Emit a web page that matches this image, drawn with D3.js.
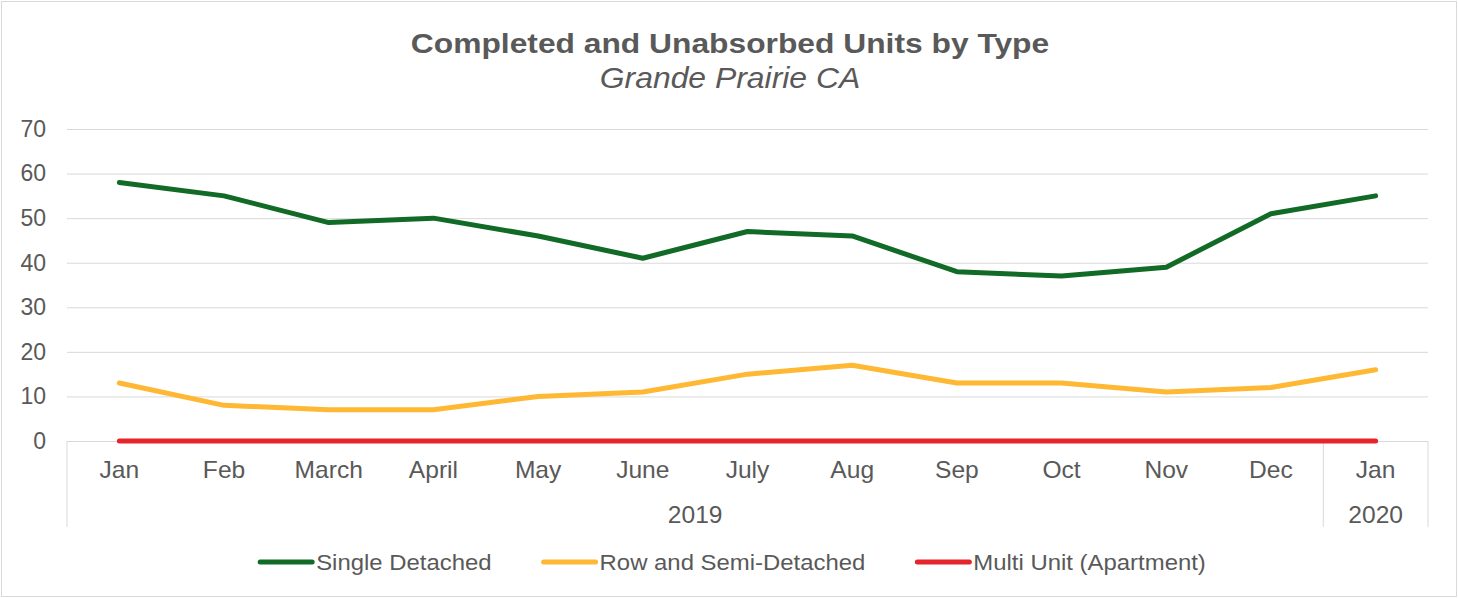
<!DOCTYPE html>
<html>
<head>
<meta charset="utf-8">
<script src="https://cdn.jsdelivr.net/npm/d3@7"></script>
<style>
  body { margin: 0; background: #fff; }
  text { font-family: Arial, "Liberation Sans", sans-serif; fill: #595959; }
</style>
</head>
<body>
<script>
// data
const months = ["Jan", "Feb", "March", "April", "May", "June", "July", "Aug", "Sep", "Oct", "Nov", "Dec", "Jan"]
const years = ["2019", "2019", "2019", "2019", "2019", "2019", "2019", "2019", "2019", "2019", "2019", "2019", "2020"]
const singleDetached = [58, 55, 49, 50, 46, 41, 47, 46, 38, 37, 39, 51, 55]
const rowSemi = [13, 8, 7, 7, 10, 11, 15, 17, 13, 13, 11, 12, 16]
const multiUnit = [0, 0, 0, 0, 0, 0, 0, 0, 0, 0, 0, 0, 0]
const yTicks = [0, 10, 20, 30, 40, 50, 60, 70]

const series = [
  {name: "Single Detached", values: singleDetached, color: "#116a26"},
  {name: "Row and Semi-Detached", values: rowSemi, color: "#ffb833"},
  {name: "Multi Unit (Apartment)", values: multiUnit, color: "#e5252b"}
]

const W = 1458, H = 598
const margin = ({top: 129, right: 30, bottom: 157, left: 67})
const width = W - margin.left - margin.right
const height = H - margin.top - margin.bottom

// the original text is a little wider than our font, stretch it sideways
const stretch = (sx) => `scale(${sx},1)`

const svg = d3.select("body").append("svg")
  .attr("width", W)
  .attr("height", H)

// outer border
svg.append("rect")
  .attr("x", 1.5).attr("y", 1.5)
  .attr("width", W - 3).attr("height", H - 3)
  .attr("fill", "#fff")
  .attr("stroke", "#d9d9d9")

svg.append("text")
  .attr("transform", "translate(730,53) " + stretch(1.135))
  .attr("text-anchor", "middle")
  .style("font-size", "28px")
  .style("font-weight", "bold")
  .text("Completed and Unabsorbed Units by Type")

svg.append("text")
  .attr("transform", "translate(730,88) " + stretch(1.1))
  .attr("text-anchor", "middle")
  .style("font-size", "29px")
  .style("font-style", "italic")
  .text("Grande Prairie CA")

const chart = svg.append("g")
  .attr("transform", `translate(${margin.left},${margin.top})`)

const idx = d3.range(months.length)
const x = d3.scaleBand()
  .domain(idx)
  .range([0, width])

const y = d3.scaleLinear()
  .domain([0, 70])
  .range([height, 0])

// gridlines + y labels
chart.append("g")
  .call(d3.axisLeft(y).tickValues(yTicks).tickSize(-width).tickPadding(21))
  .call(g => g.select(".domain").remove())
  .call(g => g.selectAll("line").attr("stroke", "#d9d9d9"))
  .call(g => g.selectAll("text")
    .style("font-size", "23px")
    .attr("fill", "#595959"))

// month labels
chart.append("g")
  .attr("transform", `translate(0,${height})`)
  .call(d3.axisBottom(x).tickSize(0).tickPadding(21).tickFormat(i => months[i]))
  .call(g => g.select(".domain").remove())
  .call(g => g.selectAll("text")
    .style("font-size", "23px")
    .attr("transform", stretch(1.07))
    .attr("fill", "#595959"))

// year groups with separators
const groups = d3.groups(idx, i => years[i])
const sepY2 = height + 86
const bounds = [0]
groups.forEach(([yr, ids]) => {
  const x0 = x(ids[0]), x1 = x(ids[ids.length - 1]) + x.bandwidth()
  bounds.push(x1)
  chart.append("text")
    .attr("transform", `translate(${(x0 + x1) / 2},${height + 82}) ` + stretch(1.07))
    .attr("text-anchor", "middle")
    .style("font-size", "23px")
    .text(yr)
})
chart.selectAll(".sep")
  .data(bounds)
  .join("line")
  .attr("class", "sep")
  .attr("x1", d => d).attr("x2", d => d)
  .attr("y1", height).attr("y2", sepY2)
  .attr("stroke", "#d9d9d9")

const line = d3.line()
  .x((d, i) => x(i) + x.bandwidth() / 2)
  .y(d => y(d))

chart.selectAll(".series")
  .data(series)
  .join("path")
  .attr("class", "series")
  .attr("d", d => line(d.values))
  .attr("fill", "none")
  .attr("stroke", d => d.color)
  .attr("stroke-width", 5)
  .attr("stroke-linecap", "round")
  .attr("stroke-linejoin", "round")

// legend
const legendSx = 1.087
const legend = svg.append("g")
let lx = 0
series.forEach(s => {
  const g = legend.append("g").attr("transform", `translate(${lx},0)`)
  g.append("line")
    .attr("x1", 2).attr("x2", 54)
    .attr("y1", 0).attr("y2", 0)
    .attr("stroke", s.color)
    .attr("stroke-width", 5)
    .attr("stroke-linecap", "round")
  const t = g.append("text")
    .attr("transform", "translate(58,8) " + stretch(legendSx))
    .style("font-size", "22px")
    .text(s.name)
  lx += 58 + t.node().getComputedTextLength() * legendSx + 50
})
const legendW = lx - 50
legend.attr("transform", `translate(${(W - legendW) / 2 + 3},562)`)
</script>
</body>
</html>
